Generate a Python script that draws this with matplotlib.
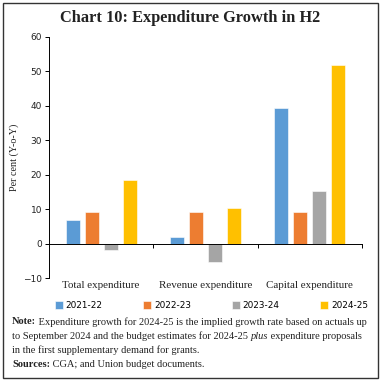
import numpy as np
import matplotlib as mpl
mpl.use('Agg')
import matplotlib.pyplot as plt
import matplotlib.transforms as mtransforms
from matplotlib.patches import Rectangle

categories = ['Total expenditure', 'Revenue expenditure', 'Capital expenditure']
years = ['2021-22', '2022-23', '2023-24', '2024-25']
growth_2021 = [6.8, 2.0, 39.5]
growth_2022 = [9.3, 9.3, 9.2]
growth_2023 = [-1.8, -5.3, 15.3]
growth_2024 = [18.5, 10.3, 52.0]
yticks = [-10, 0, 10, 20, 30, 40, 50, 60]

colors = ['#5B9BD5', '#ED7D31', '#A5A5A5', '#FFC000']
serif = 'Liberation Serif'
sans = 'DejaVu Sans'

fig = plt.figure(figsize=(3.81, 3.81), dpi=100)
ax = fig.add_axes([0.1286, 0.2703, 0.8214, 0.6327])

x = np.arange(len(categories))
series = [growth_2021, growth_2022, growth_2023, growth_2024]
step = 0.182
width = 0.135
for i, (vals, c, lab) in enumerate(zip(series, colors, years)):
    ax.bar(x + (i - 1.5) * step, vals, width=width, color=c,
           edgecolor='white', linewidth=0.4, label=lab, zorder=2)

ax.set_xlim(-0.5, 2.5)
ax.set_ylim(-10, 60)
ax.set_yticks(yticks)
ax.tick_params(axis='y', labelsize=6.5, length=3, width=0.7, pad=2)
ax.spines['top'].set_visible(False)
ax.spines['right'].set_visible(False)
ax.spines['bottom'].set_position(('data', 0))
ax.spines['left'].set_linewidth(0.7)
ax.spines['bottom'].set_linewidth(0.7)
ax.set_xticks([0.5, 1.5, 2.5])
ax.set_xticklabels([])
ax.tick_params(axis='x', length=3, width=0.7, direction='out')
for lbl in ax.get_yticklabels():
    lbl.set_family(sans)
    lbl.set_color('#222222')

trans = mtransforms.blended_transform_factory(ax.transData, ax.transAxes)
for xi, cat in zip(x, categories):
    ax.text(xi, -0.03, cat, transform=trans, ha='center', va='center',
            fontsize=7.9, family=serif, color='#222222')

ax.set_ylabel('Per cent (Y-o-Y)', fontsize=7.3, family=serif, color='#222222', labelpad=3)

fig.text(0.5, 0.952, 'Chart 10: Expenditure Growth in H2', ha='center', va='center',
         fontsize=11.8, fontweight='bold', family=serif, color='#222222')

handles, labels = ax.get_legend_handles_labels()
fig.legend(handles, labels, ncol=4, loc='center', bbox_to_anchor=(0.555, 0.198),
           frameon=False, handlelength=0.9, handleheight=0.9,
           handletextpad=0.3, columnspacing=4.6, prop={'family': sans, 'size': 6.4})

# note block with mixed styles
fig.canvas.draw()
renderer = fig.canvas.get_renderer()
note_lines = [
    [('Note:', 'bold', 'normal'), (' Expenditure growth for 2024-25 is the implied growth rate based on actuals up', 'normal', 'normal')],
    [('to September 2024 and the budget estimates for 2024-25 ', 'normal', 'normal'), ('plus', 'normal', 'italic'), (' expenditure proposals', 'normal', 'normal')],
    [('in the first supplementary demand for grants.', 'normal', 'normal')],
    [('Sources:', 'bold', 'normal'), (' CGA; and Union budget documents.', 'normal', 'normal')],
]
y0 = 1 - 322 / 381
dy = 14.3 / 381
for li, parts in enumerate(note_lines):
    xpos = 12 / 381
    for txt, wt, st in parts:
        t = fig.text(xpos, y0 - li * dy, txt, ha='left', va='center', fontsize=7.45,
                     family=serif, fontweight=wt, fontstyle=st, color='#222222')
        bb = t.get_window_extent(renderer)
        xpos += bb.width / fig.bbox.width

fig.add_artist(Rectangle((0.008, 0.008), 0.984, 0.984, transform=fig.transFigure,
                         fill=False, edgecolor='#333333', linewidth=1.0))

fig.savefig('out.png', dpi=100)
